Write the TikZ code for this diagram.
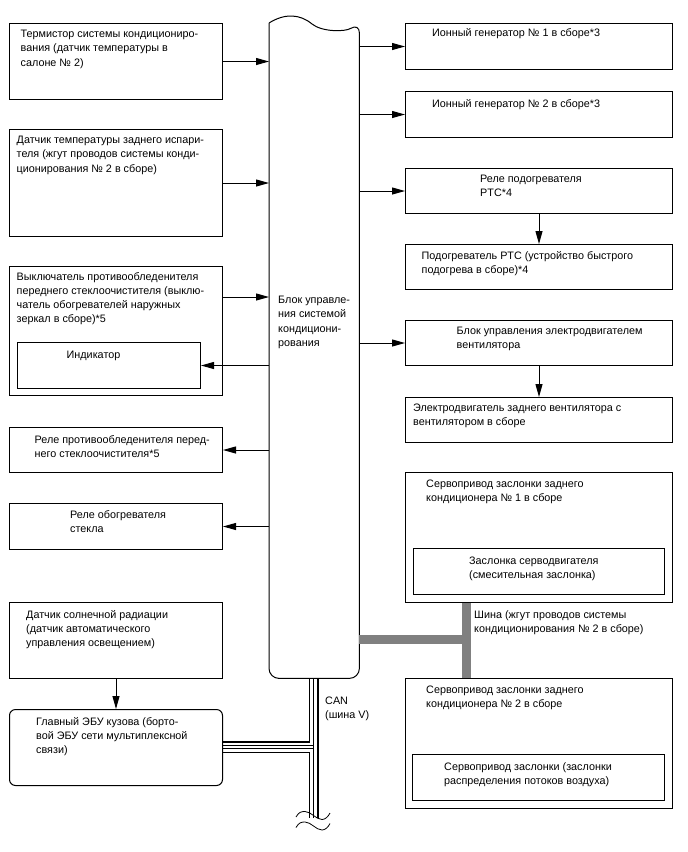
\documentclass[tikz,border=0pt]{standalone}
\usepackage{fontspec}
\setmainfont{Liberation Sans}
\usepackage{tikz}
\usetikzlibrary{arrows.meta}

\begin{document}
\begin{tikzpicture}[
    x=1pt, y=-1pt,
    box/.style={draw, line width=1pt, anchor=north west, inner sep=0pt},
    txt/.style={anchor=north west, inner sep=0pt, align=left,
                font=\fontsize{10.8}{14.2}\selectfont},
    arrow/.style={-{Triangle[length=13pt, width=7pt]}, line width=1pt},
    bus/.style={line width=9pt, draw=gray},
    canthick/.style={line width=1.8pt},
    canthin/.style={line width=0.7pt},
]
\useasboundingbox (0,0) rectangle (688,852);

% --- Control unit ---
\node[anchor=north west, inner sep=0pt, minimum width=90pt,
      minimum height=655pt] (ctrl) at (269,23) {};
\draw[line width=1pt, rounded corners=10pt] (ctrl.north west) -- (ctrl.south west)
    -- (ctrl.south east) -- (ctrl.north east) [sharp corners]
    .. controls (345,32) and (322,32) .. (312,24)
    .. controls (300,14) and (285,13) .. (ctrl.north west);
\node[txt] (ctrltxt) at (278,296)
    {Блок управле-\\ния системой\\кондициони-\\рования};

% --- Left inputs ---
\node[box, minimum width=213pt, minimum height=76pt] (thermo) at (9,23) {};
\node[txt] (thermotxt) at (20.5,30)
    {Термистор системы кондициониро-\\вания (датчик температуры в\\салоне № 2)};

\node[box, minimum width=213pt, minimum height=107pt] (evapsens) at (9,129) {};
\node[txt] (evapsenstxt) at (16.5,136)
    {Датчик температуры заднего испари-\\теля (жгут проводов системы конди-\\ционирования № 2 в сборе)};

\node[box, minimum width=213pt, minimum height=129pt] (defswitch) at (9,266) {};
\node[txt] (defswitchtxt) at (16.5,272)
    {Выключатель противообледенителя\\переднего стеклоочистителя (выклю-\\чатель обогревателей наружных\\зеркал в сборе)*5};
\node[box, minimum width=183pt, minimum height=46pt] (indicator) at (17,342) {};
\node[txt] (indicatortxt) at (66.5,351) {Индикатор};

% --- Left outputs ---
\node[box, minimum width=213pt, minimum height=45pt] (defrelay) at (9,427) {};
\node[txt] (defrelaytxt) at (34.5,435)
    {Реле противообледенителя перед-\\него стеклоочистителя*5};

\node[box, minimum width=213pt, minimum height=46pt] (glassrelay) at (9,503) {};
\node[txt] (glassrelaytxt) at (70,510) {Реле обогревателя\\стекла};

% --- Sensor and body ECU ---
\node[box, minimum width=213pt, minimum height=76pt] (sunsens) at (9,602) {};
\node[txt] (sunsenstxt) at (26,610)
    {Датчик солнечной радиации\\(датчик автоматического\\управления освещением)};

\node[box, rounded corners=6pt, minimum width=213pt, minimum height=76pt] (bodyecu) at (9,709) {};
\node[txt] (bodyecutxt) at (36,717)
    {Главный ЭБУ кузова (борто-\\вой ЭБУ сети мультиплексной\\связи)};

% --- Right outputs ---
\node[box, minimum width=267pt, minimum height=46pt] (ion1) at (405,23) {};
\node[txt] (ion1txt) at (432,28) {Ионный генератор № 1 в сборе*3};

\node[box, minimum width=267pt, minimum height=46pt] (ion2) at (405,91) {};
\node[txt] (ion2txt) at (432,99) {Ионный генератор № 2 в сборе*3};

\node[box, minimum width=267pt, minimum height=45pt] (ptcrelay) at (405,168) {};
\node[txt] (ptcrelaytxt) at (480,175) {Реле подогревателя\\PTC*4};

\node[box, minimum width=267pt, minimum height=45pt] (ptcheater) at (405,244) {};
\node[txt] (ptcheatertxt) at (421.5,251)
    {Подогреватель PTC (устройство быстрого\\подогрева в сборе)*4};

\node[box, minimum width=267pt, minimum height=45pt] (fanctrl) at (405,320) {};
\node[txt] (fanctrltxt) at (456.5,327)
    {Блок управления электродвигателем\\вентилятора};

\node[box, minimum width=267pt, minimum height=45pt] (fanmotor) at (405,397) {};
\node[txt] (fanmotortxt) at (413,404)
    {Электродвигатель заднего вентилятора с\\вентилятором в сборе};

% --- Servo motors ---
\node[box, minimum width=267pt, minimum height=130pt] (servo1) at (405,472) {};
\node[txt] (servo1txt) at (426,480)
    {Сервопривод заслонки заднего\\кондиционера № 1 в сборе};
\node[box, minimum width=251pt, minimum height=46pt] (mixdamper) at (413,548) {};
\node[txt] (mixdampertxt) at (469,557)
    {Заслонка серводвигателя\\(смесительная заслонка)};

\node[box, minimum width=267pt, minimum height=130pt] (servo2) at (405,678) {};
\node[txt] (servo2txt) at (426,686)
    {Сервопривод заслонки заднего\\кондиционера № 2 в сборе};
\node[box, minimum width=252pt, minimum height=46pt] (airdamper) at (412,754) {};
\node[txt] (airdampertxt) at (444,762)
    {Сервопривод заслонки (заслонки\\распределения потоков воздуха)};

% --- Signal lines ---
\draw[arrow] (thermo) -- (thermo -| ctrl.west);
\draw[arrow] (evapsens) -- (evapsens -| ctrl.west);
\draw[arrow] ([yshift=-31pt]defswitch.north east) coordinate (swout) -- (swout -| ctrl.west);
\draw[arrow] (ctrl.west |- indicator) -- (indicator);
\draw[arrow] (ctrl.west |- defrelay) -- (defrelay);
\draw[arrow] (ctrl.west |- glassrelay) -- (glassrelay);
\draw[arrow] (ctrl.east |- ion1) -- (ion1);
\draw[arrow] (ctrl.east |- ion2) -- (ion2);
\draw[arrow] (ctrl.east |- ptcrelay) -- (ptcrelay);
\draw[arrow] (ctrl.east |- fanctrl) -- (fanctrl);
\draw[arrow] (ptcrelay) -- (ptcheater);
\draw[arrow] (fanctrl) -- (fanmotor);
\draw[arrow] (sunsens) -- (bodyecu);

% --- Servo bus ---
\coordinate (busx) at (466.5,639.5);
\draw[bus] (busx -| ctrl.east) -- (busx);
\draw[bus] (busx |- servo1.south) -- (busx |- servo2.north);
\node[txt] (bustxt) at (474,610)
    {Шина (жгут проводов системы\\кондиционирования № 2 в сборе)};

% --- CAN bus ---
\coordinate (canL) at (309.5,678);
\coordinate (canM) at (313.5,678);
\coordinate (canR) at (318,678);
\coordinate (canend) at (0,818);
\draw[canthick] ([yshift=5.5pt]bodyecu.east) -| (canL);
\draw[canthick] ([yshift=-5pt]bodyecu.east) -| (canL |- canend);
\draw[canthick] (canR) -- (canR |- canend);
\draw[canthin] (canM) -- (canM |- canend);
\draw[canthin] ([yshift=1.8pt]bodyecu.east) coordinate (canh1) -- (canh1 -| canM);
\draw[canthin] ([yshift=-0.7pt]bodyecu.east) coordinate (canh2) -- (canh2 -| canM);
\node[txt] (cantxt) at (325,697) {CAN\\(шина V)};
\draw[line width=0.8pt] (296,817) .. controls (299,812) and (301,811.5) .. (305,811.5)
    .. controls (311,811.5) and (316,819.5) .. (322,819.5)
    .. controls (325,819.5) and (328,817) .. (330,813);
\draw[line width=0.8pt] (296,827.5) .. controls (299,822.5) and (301,822) .. (305,822)
    .. controls (311,822) and (316,830) .. (322,830)
    .. controls (325,830) and (328,827.5) .. (330,823.5);
\end{tikzpicture}
\end{document}
